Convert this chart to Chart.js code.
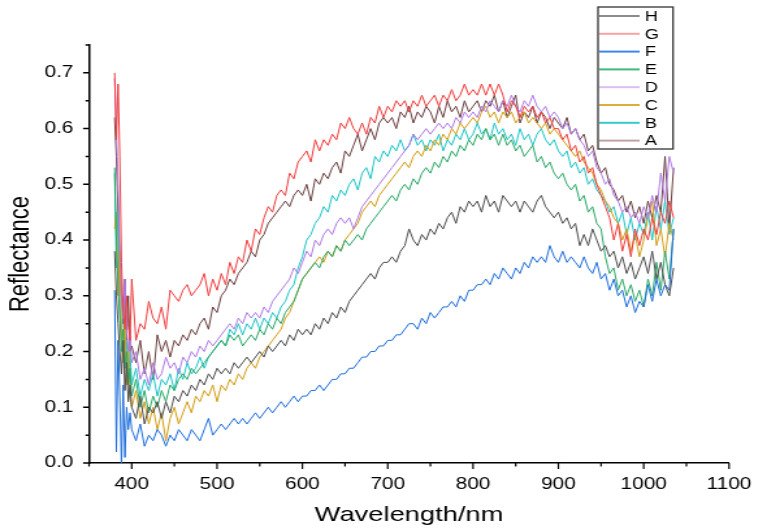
<!DOCTYPE html>
<html>
<head>
<meta charset="utf-8">
<title>Reflectance spectra</title>
<script src="https://cdn.jsdelivr.net/npm/chart.js@4.4.1/dist/chart.umd.min.js"></script>
<style>
  html, body { margin: 0; padding: 0; background: #fff; overflow: hidden; }
  /* the original figure is stretched sideways, so the 590px-wide chart is widened to 767px */
  #wrap { width: 590px; height: 529px; transform: scaleX(1.3); transform-origin: 0 0; }
  canvas { display: block; }
</style>
</head>
<body>
<div id="wrap"><canvas id="chart" width="590" height="529"></canvas></div>
<script>
// wavelength (nm) of each sample
const wavelengths = [
  380, 382, 384, 386, 388, 390, 392, 394, 396, 398,
  400, 405, 410, 415, 420, 425, 430, 435, 440, 445, 450, 455, 460, 465, 470, 475, 480, 485, 490, 495,
  500, 505, 510, 515, 520, 525, 530, 535, 540, 545, 550, 555, 560, 565, 570, 575, 580, 585, 590, 595,
  600, 605, 610, 615, 620, 625, 630, 635, 640, 645, 650, 655, 660, 665, 670, 675, 680, 685, 690, 695,
  700, 705, 710, 715, 720, 725, 730, 735, 740, 745, 750, 755, 760, 765, 770, 775, 780, 785, 790, 795,
  800, 805, 810, 815, 820, 825, 830, 835, 840, 845, 850, 855, 860, 865, 870, 875, 880, 885, 890, 895,
  900, 905, 910, 915, 920, 925, 930, 935, 940, 945, 950, 955, 960, 965, 970, 975, 980, 985, 990, 995,
  1000, 1005, 1010, 1015, 1020, 1025, 1030, 1035
];

const specH = [
  0.38, 0.30, 0.25, 0.20, 0.16, 0.22, 0.13, 0.18, 0.11, 0.14,
  0.10, 0.08, 0.12, 0.07, 0.10, 0.09, 0.11, 0.08, 0.11, 0.09, 0.12, 0.11, 0.13, 0.12, 0.14, 0.13, 0.15, 0.14, 0.16, 0.15,
  0.17, 0.16, 0.17, 0.16, 0.18, 0.17, 0.18, 0.19, 0.18, 0.19, 0.20, 0.19, 0.21, 0.20, 0.21, 0.22, 0.21, 0.23, 0.22, 0.24,
  0.23, 0.24, 0.23, 0.25, 0.24, 0.26, 0.25, 0.27, 0.26, 0.28, 0.27, 0.29, 0.30, 0.31, 0.32, 0.33, 0.34, 0.33, 0.35, 0.36,
  0.36, 0.37, 0.36, 0.38, 0.39, 0.42, 0.40, 0.39, 0.41, 0.40, 0.42, 0.41, 0.43, 0.42, 0.44, 0.45, 0.43, 0.46, 0.45, 0.47,
  0.46, 0.47, 0.45, 0.48, 0.46, 0.47, 0.45, 0.48, 0.47, 0.46, 0.47, 0.45, 0.47, 0.46, 0.45, 0.47, 0.48, 0.46, 0.45, 0.44,
  0.45, 0.43, 0.44, 0.42, 0.43, 0.39, 0.41, 0.39, 0.42, 0.40, 0.38, 0.39, 0.37, 0.38, 0.35, 0.37, 0.34, 0.36, 0.33, 0.35,
  0.37, 0.34, 0.38, 0.33, 0.36, 0.32, 0.30, 0.35
];
const specG = [
  0.70, 0.58, 0.68, 0.55, 0.36, 0.27, 0.24, 0.30, 0.25, 0.22,
  0.33, 0.22, 0.25, 0.24, 0.29, 0.26, 0.25, 0.28, 0.24, 0.31, 0.30, 0.29, 0.31, 0.32, 0.30, 0.31, 0.32, 0.34, 0.30, 0.33,
  0.31, 0.34, 0.32, 0.36, 0.34, 0.37, 0.36, 0.40, 0.38, 0.42, 0.41, 0.44, 0.46, 0.45, 0.48, 0.49, 0.48, 0.52, 0.51, 0.54,
  0.55, 0.56, 0.54, 0.58, 0.56, 0.58, 0.57, 0.59, 0.58, 0.61, 0.60, 0.62, 0.60, 0.59, 0.61, 0.59, 0.62, 0.61, 0.64, 0.62,
  0.64, 0.63, 0.65, 0.64, 0.65, 0.63, 0.65, 0.64, 0.66, 0.64, 0.65, 0.66, 0.64, 0.66, 0.65, 0.67, 0.65, 0.66, 0.68, 0.66,
  0.67, 0.66, 0.68, 0.66, 0.68, 0.66, 0.68, 0.66, 0.63, 0.65, 0.64, 0.62, 0.64, 0.63, 0.64, 0.62, 0.63, 0.61, 0.62, 0.60,
  0.60, 0.58, 0.59, 0.56, 0.57, 0.54, 0.55, 0.52, 0.53, 0.50, 0.48, 0.46, 0.44, 0.40, 0.43, 0.38, 0.41, 0.37, 0.42, 0.39,
  0.42, 0.40, 0.44, 0.41, 0.45, 0.43, 0.47, 0.44
];
const specF = [
  0.31, 0.02, 0.22, 0.12, 0.00, 0.14, 0.01, 0.10, 0.06, 0.09,
  0.06, 0.04, 0.07, 0.03, 0.05, 0.04, 0.06, 0.05, 0.03, 0.05, 0.04, 0.06, 0.05, 0.04, 0.06, 0.05, 0.04, 0.06, 0.08, 0.05,
  0.06, 0.07, 0.06, 0.07, 0.08, 0.07, 0.08, 0.07, 0.08, 0.09, 0.08, 0.09, 0.10, 0.09, 0.10, 0.11, 0.10, 0.11, 0.12, 0.11,
  0.12, 0.12, 0.13, 0.13, 0.14, 0.13, 0.14, 0.15, 0.15, 0.16, 0.16, 0.17, 0.17, 0.18, 0.19, 0.19, 0.20, 0.20, 0.21, 0.21,
  0.22, 0.22, 0.23, 0.23, 0.24, 0.25, 0.25, 0.24, 0.26, 0.25, 0.27, 0.26, 0.27, 0.28, 0.28, 0.29, 0.28, 0.30, 0.29, 0.31,
  0.31, 0.32, 0.32, 0.33, 0.32, 0.34, 0.33, 0.35, 0.34, 0.33, 0.35, 0.34, 0.36, 0.35, 0.37, 0.36, 0.37, 0.36, 0.39, 0.37,
  0.36, 0.38, 0.36, 0.37, 0.36, 0.35, 0.37, 0.35, 0.34, 0.36, 0.33, 0.34, 0.31, 0.33, 0.30, 0.31, 0.28, 0.30, 0.27, 0.29,
  0.28, 0.32, 0.29, 0.33, 0.30, 0.32, 0.31, 0.42
];
const specE = [
  0.53, 0.40, 0.32, 0.26, 0.20, 0.24, 0.17, 0.20, 0.14, 0.17,
  0.12, 0.15, 0.10, 0.13, 0.09, 0.12, 0.10, 0.13, 0.11, 0.14, 0.13, 0.15, 0.16, 0.15, 0.17, 0.16, 0.17, 0.18, 0.19, 0.20,
  0.21, 0.22, 0.21, 0.23, 0.22, 0.23, 0.21, 0.22, 0.23, 0.22, 0.24, 0.23, 0.25, 0.24, 0.26, 0.25, 0.27, 0.28, 0.29, 0.31,
  0.33, 0.34, 0.35, 0.36, 0.35, 0.37, 0.38, 0.37, 0.39, 0.38, 0.40, 0.39, 0.40, 0.41, 0.40, 0.42, 0.43, 0.44, 0.45, 0.46,
  0.47, 0.48, 0.47, 0.49, 0.50, 0.49, 0.51, 0.50, 0.52, 0.53, 0.52, 0.54, 0.53, 0.55, 0.54, 0.56, 0.55, 0.57, 0.56, 0.58,
  0.57, 0.59, 0.58, 0.60, 0.58, 0.59, 0.57, 0.59, 0.57, 0.58, 0.56, 0.57, 0.55, 0.56, 0.57, 0.54, 0.55, 0.53, 0.54, 0.52,
  0.51, 0.52, 0.50, 0.49, 0.50, 0.47, 0.48, 0.45, 0.46, 0.43, 0.42, 0.37, 0.34, 0.35, 0.31, 0.33, 0.30, 0.32, 0.29, 0.31,
  0.28, 0.33, 0.30, 0.36, 0.31, 0.38, 0.33, 0.42
];
const specD = [
  0.69, 0.60, 0.50, 0.38, 0.30, 0.26, 0.33, 0.24, 0.20, 0.24,
  0.18, 0.20, 0.15, 0.17, 0.14, 0.18, 0.15, 0.16, 0.19, 0.17, 0.18, 0.16, 0.19, 0.18, 0.20, 0.19, 0.21, 0.20, 0.22, 0.21,
  0.22, 0.23, 0.24, 0.25, 0.24, 0.26, 0.25, 0.27, 0.26, 0.27, 0.26, 0.28, 0.27, 0.29, 0.30, 0.31, 0.32, 0.33, 0.35, 0.34,
  0.36, 0.38, 0.37, 0.40, 0.39, 0.41, 0.42, 0.41, 0.43, 0.44, 0.43, 0.44, 0.42, 0.44, 0.46, 0.47, 0.48, 0.49, 0.50, 0.51,
  0.52, 0.53, 0.54, 0.55, 0.56, 0.57, 0.59, 0.58, 0.59, 0.60, 0.59, 0.60, 0.61, 0.60, 0.61, 0.60, 0.62, 0.61, 0.63, 0.62,
  0.63, 0.62, 0.64, 0.63, 0.65, 0.64, 0.63, 0.65, 0.64, 0.66, 0.64, 0.63, 0.65, 0.64, 0.66, 0.64, 0.63, 0.64, 0.62, 0.63,
  0.62, 0.60, 0.61, 0.59, 0.60, 0.58, 0.57, 0.55, 0.56, 0.53, 0.52, 0.50, 0.51, 0.48, 0.47, 0.45, 0.46, 0.44, 0.45, 0.43,
  0.46, 0.44, 0.48, 0.45, 0.52, 0.47, 0.55, 0.52
];
const specC = [
  0.42, 0.45, 0.30, 0.38, 0.22, 0.18, 0.25, 0.14, 0.20, 0.12,
  0.10, 0.13, 0.08, 0.11, 0.07, 0.10, 0.06, 0.09, 0.04, 0.08, 0.10, 0.07, 0.09, 0.11, 0.09, 0.12, 0.11, 0.13, 0.12, 0.14,
  0.11, 0.14, 0.13, 0.15, 0.14, 0.16, 0.15, 0.17, 0.18, 0.17, 0.19, 0.20, 0.21, 0.22, 0.23, 0.24, 0.26, 0.27, 0.29, 0.31,
  0.33, 0.34, 0.35, 0.36, 0.37, 0.36, 0.38, 0.37, 0.39, 0.38, 0.40, 0.41, 0.42, 0.43, 0.45, 0.46, 0.47, 0.46, 0.48, 0.49,
  0.50, 0.51, 0.52, 0.53, 0.54, 0.53, 0.55, 0.56, 0.55, 0.57, 0.56, 0.58, 0.57, 0.59, 0.58, 0.60, 0.59, 0.61, 0.60, 0.61,
  0.62, 0.61, 0.63, 0.64, 0.62, 0.63, 0.61, 0.63, 0.62, 0.63, 0.61, 0.62, 0.63, 0.61, 0.62, 0.61, 0.60, 0.61, 0.59, 0.60,
  0.59, 0.58, 0.57, 0.56, 0.55, 0.56, 0.54, 0.53, 0.52, 0.50, 0.49, 0.47, 0.46, 0.44, 0.43, 0.40, 0.42, 0.38, 0.41, 0.37,
  0.40, 0.44, 0.47, 0.39, 0.42, 0.37, 0.43, 0.40
];
const specB = [
  0.52, 0.35, 0.45, 0.28, 0.22, 0.30, 0.18, 0.22, 0.15, 0.20,
  0.14, 0.17, 0.12, 0.15, 0.13, 0.16, 0.12, 0.15, 0.14, 0.16, 0.13, 0.17, 0.15, 0.18, 0.16, 0.17, 0.19, 0.17, 0.19, 0.20,
  0.21, 0.22, 0.21, 0.24, 0.23, 0.25, 0.23, 0.25, 0.24, 0.26, 0.24, 0.26, 0.25, 0.27, 0.26, 0.28, 0.29, 0.31, 0.32, 0.35,
  0.37, 0.40, 0.41, 0.43, 0.44, 0.46, 0.45, 0.48, 0.47, 0.49, 0.48, 0.50, 0.51, 0.49, 0.52, 0.53, 0.51, 0.55, 0.54, 0.56,
  0.55, 0.57, 0.56, 0.58, 0.56, 0.57, 0.59, 0.57, 0.58, 0.56, 0.58, 0.57, 0.59, 0.56, 0.58, 0.57, 0.59, 0.58, 0.60, 0.58,
  0.59, 0.61, 0.59, 0.60, 0.58, 0.61, 0.59, 0.60, 0.58, 0.59, 0.57, 0.60, 0.58, 0.59, 0.57, 0.59, 0.60, 0.58, 0.57, 0.58,
  0.56, 0.55, 0.56, 0.53, 0.54, 0.52, 0.53, 0.50, 0.51, 0.49, 0.48, 0.47, 0.45, 0.46, 0.43, 0.45, 0.41, 0.44, 0.40, 0.43,
  0.41, 0.45, 0.40, 0.46, 0.42, 0.47, 0.41, 0.44
];
const specA = [
  0.62, 0.55, 0.45, 0.36, 0.30, 0.25, 0.33, 0.22, 0.30, 0.20,
  0.21, 0.18, 0.22, 0.16, 0.20, 0.15, 0.23, 0.20, 0.22, 0.19, 0.22, 0.21, 0.23, 0.22, 0.24, 0.23, 0.25, 0.26, 0.24, 0.28,
  0.27, 0.30, 0.31, 0.33, 0.32, 0.34, 0.35, 0.36, 0.38, 0.37, 0.40, 0.41, 0.43, 0.44, 0.45, 0.46, 0.47, 0.46, 0.48, 0.49,
  0.48, 0.50, 0.47, 0.51, 0.50, 0.52, 0.51, 0.53, 0.54, 0.52, 0.56, 0.55, 0.57, 0.59, 0.56, 0.58, 0.60, 0.58, 0.61, 0.62,
  0.61, 0.62, 0.60, 0.63, 0.62, 0.64, 0.61, 0.63, 0.62, 0.64, 0.63, 0.61, 0.64, 0.62, 0.65, 0.63, 0.64, 0.62, 0.65, 0.63,
  0.64, 0.65, 0.63, 0.65, 0.64, 0.66, 0.63, 0.65, 0.62, 0.64, 0.66, 0.61, 0.63, 0.62, 0.64, 0.61, 0.63, 0.62, 0.60, 0.62,
  0.61, 0.60, 0.62, 0.59, 0.60, 0.58, 0.59, 0.56, 0.57, 0.54, 0.52, 0.53, 0.50, 0.49, 0.47, 0.48, 0.45, 0.47, 0.44, 0.46,
  0.43, 0.47, 0.44, 0.48, 0.45, 0.55, 0.42, 0.53
];

const seriesNames = ['H', 'G', 'F', 'E', 'D', 'C', 'B', 'A'];
const seriesValues = [specH, specG, specF, specE, specD, specC, specB, specA];
const lineColors = ['#4e4e4e', '#f03c3c', '#1f6fdc', '#2aa866', '#b07ce6', '#d39d14', '#1cc4c8', '#6b3f3f'];
const legendColors = ['#8c8c8c', '#f7a3a3', '#3d86ea', '#3fba7c', '#d8bff0', '#dcae3a', '#34cbcf', '#bfa2a2'];

const xMajor = [400, 500, 600, 700, 800, 900, 1000, 1100];
const xMinor = [350, 450, 550, 650, 750, 850, 950, 1050];
const yMajor = [0, 0.1, 0.2, 0.3, 0.4, 0.5, 0.6, 0.7];
const yMinor = [0.05, 0.15, 0.25, 0.35, 0.45, 0.55, 0.65, 0.75];

const FONT = "'Liberation Sans', Arial, sans-serif";

const datasets = seriesNames.map((name, i) => ({
  label: name,
  data: wavelengths.map((w, j) => ({ x: w, y: seriesValues[i][j] })),
  borderColor: lineColors[i],
  borderWidth: 1,
  pointRadius: 0,
  tension: 0,
  fill: false
}));

// tick marks (major + minor) and the boxed legend
const decor = {
  id: 'decor',
  afterDraw(chart) {
    const ctx = chart.ctx;
    const sx = chart.scales.x, sy = chart.scales.y;
    const area = chart.chartArea;
    ctx.save();
    ctx.strokeStyle = '#000';
    ctx.lineWidth = 1.2;
    ctx.beginPath();
    xMajor.forEach(v => { const p = sx.getPixelForValue(v); ctx.moveTo(p, area.bottom); ctx.lineTo(p, area.bottom + 6); });
    xMinor.forEach(v => { const p = sx.getPixelForValue(v); ctx.moveTo(p, area.bottom); ctx.lineTo(p, area.bottom + 3.5); });
    ctx.stroke();
    ctx.lineWidth = 1.5;
    ctx.beginPath();
    yMajor.forEach(v => { const p = sy.getPixelForValue(v); ctx.moveTo(area.left, p); ctx.lineTo(area.left - 4.6, p); });
    yMinor.forEach(v => { const p = sy.getPixelForValue(v); ctx.moveTo(area.left, p); ctx.lineTo(area.left - 2.7, p); });
    ctx.stroke();

    // legend box
    const bx = 460, by = 7, bw = 57.7, bh = 142;
    ctx.fillStyle = '#fff';
    ctx.fillRect(bx, by, bw, bh);
    ctx.strokeStyle = '#333';
    ctx.lineWidth = 1.3;
    ctx.strokeRect(bx, by, bw, bh);
    ctx.font = '14px ' + FONT;
    ctx.textBaseline = 'middle';
    ctx.fillStyle = '#000';
    seriesNames.forEach((name, i) => {
      const ry = 16 + i * 17.8;
      ctx.strokeStyle = legendColors[i];
      ctx.lineWidth = 2;
      ctx.beginPath();
      ctx.moveTo(bx + 1, ry);
      ctx.lineTo(bx + 32, ry);
      ctx.stroke();
      ctx.fillText(name, bx + 36, ry + 1);
    });
    ctx.restore();
  }
};

new Chart(document.getElementById('chart'), {
  type: 'line',
  data: { datasets },
  options: {
    responsive: false,
    animation: false,
    layout: { padding: { top: 45, right: 20.8, left: 0, bottom: 0 } },
    plugins: { legend: { display: false }, tooltip: { enabled: false } },
    scales: {
      x: {
        type: 'linear',
        min: 350,
        max: 1100,
        afterBuildTicks: s => { s.ticks = xMajor.map(v => ({ value: v })); },
        afterFit: s => { s.height = 66; },
        grid: { display: false, drawTicks: false },
        border: { display: true, color: '#000', width: 1.5 },
        ticks: { color: '#000', font: { size: 16, family: FONT }, padding: 12, maxRotation: 0, autoSkip: false, callback: v => String(v) },
        title: { display: true, text: 'Wavelength/nm', color: '#000', font: { size: 21, family: FONT }, padding: { bottom: 1 } }
      },
      y: {
        type: 'linear',
        min: 0,
        max: 0.75,
        afterBuildTicks: s => { s.ticks = yMajor.map(v => ({ value: v })); },
        afterFit: s => { s.width = 68.5; },
        grid: { display: false, drawTicks: false },
        border: { display: true, color: '#000', width: 1.5 },
        ticks: { color: '#000', font: { size: 16, family: FONT }, padding: 12, callback: v => v.toFixed(1) },
        title: { display: true, text: 'Reflectance', color: '#000', font: { size: 22, family: FONT }, padding: { top: 3 } }
      }
    }
  },
  plugins: [decor]
});
</script>
</body>
</html>
